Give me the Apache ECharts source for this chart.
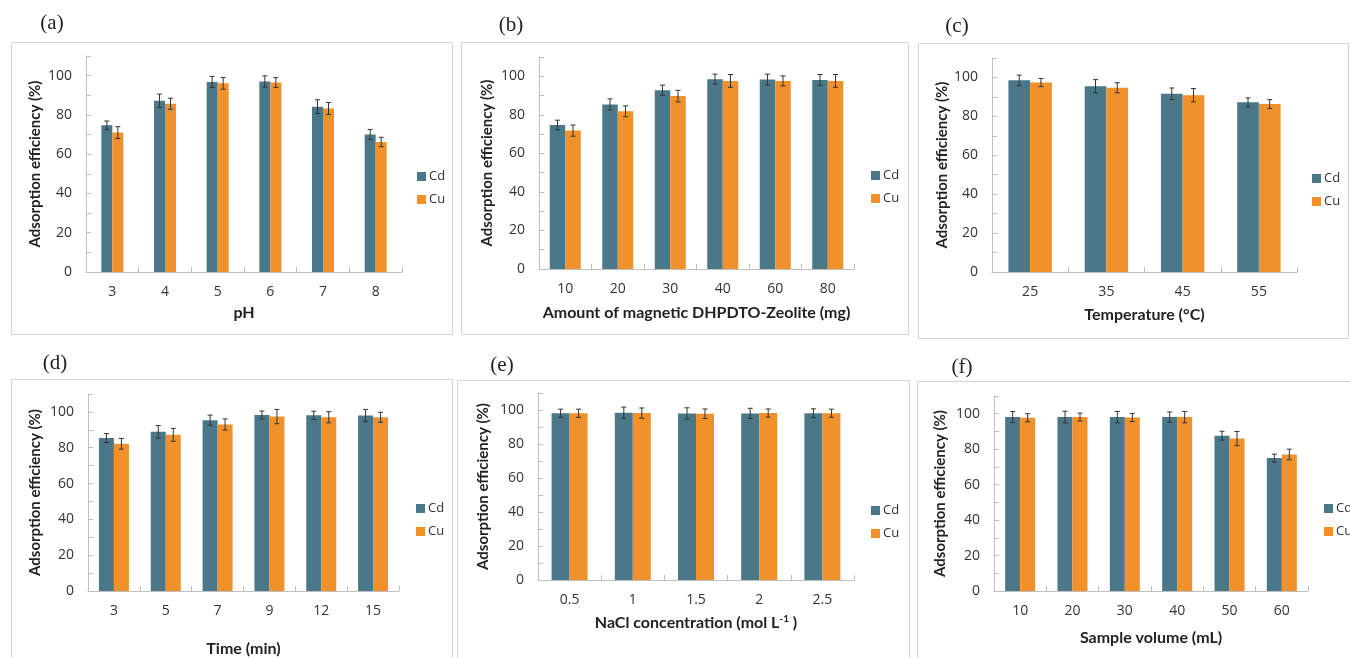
<!DOCTYPE html>
<html><head><meta charset="utf-8">
<script src="https://cdn.jsdelivr.net/npm/echarts@6/dist/echarts.min.js"></script>
<style>html,body{margin:0;padding:0;background:#fff}#c{width:1350px;height:658px}</style>
</head><body><div id="c"></div>
<script>
// ---- data ----
const seriesNames = ['Cd', 'Cu'];
const panelLabels = ['(a)', '(b)', '(c)', '(d)', '(e)', '(f)'];
const yTicks = [0, 20, 40, 60, 80, 100];

const catsA = ['3', '4', '5', '6', '7', '8'];
const cdA = [74.7, 87.2, 96.8, 97.0, 84.2, 70.0];
const cuA = [71.0, 85.7, 96.1, 96.5, 83.3, 66.2];
const cdErrA = [2.2, 3.4, 2.8, 2.9, 3.5, 2.6];
const cuErrA = [3.0, 2.8, 3.0, 2.5, 3.0, 2.4];

const catsB = ['10', '20', '30', '40', '60', '80'];
const cdB = [74.7, 85.4, 92.8, 98.5, 98.3, 98.1];
const cuB = [71.8, 81.8, 89.7, 97.6, 97.6, 97.6];
const cdErrB = [2.5, 2.9, 2.6, 2.6, 2.8, 2.8];
const cuErrB = [2.9, 2.8, 3.0, 3.3, 2.6, 3.3];

const catsC = ['25', '35', '45', '55'];
const cdC = [98.5, 95.5, 91.6, 87.2];
const cuC = [97.4, 94.7, 90.9, 86.3];
const cdErrC = [2.7, 3.4, 3.0, 2.3];
const cuErrC = [2.1, 2.6, 3.4, 2.3];

const catsD = ['3', '5', '7', '9', '12', '15'];
const cdD = [85.4, 88.9, 95.4, 98.3, 98.1, 98.0];
const cuD = [82.2, 87.2, 93.0, 97.4, 97.0, 97.0];
const cdErrD = [2.5, 3.5, 2.8, 2.2, 2.3, 3.4];
const cuErrD = [3.0, 3.6, 3.1, 4.0, 3.1, 2.8];

const catsE = ['0.5', '1', '1.5', '2', '2.5'];
const cdE = [98.1, 98.4, 98.0, 98.0, 98.1];
const cuE = [98.1, 98.2, 97.8, 98.2, 98.1];
const cdErrE = [2.4, 3.3, 3.3, 3.0, 2.6];
const cuErrE = [2.4, 3.0, 2.8, 2.4, 2.4];

const catsF = ['10', '20', '30', '40', '50', '60'];
const cdF = [98.1, 98.1, 98.1, 98.1, 87.6, 75.0];
const cuF = [97.7, 98.1, 97.9, 98.1, 86.0, 77.0];
const cdErrF = [3.1, 3.3, 3.2, 2.9, 2.5, 2.2];
const cuErrF = [2.3, 2.2, 2.3, 3.2, 4.0, 3.0];

const xNames = ['pH', 'Amount of magnetic DHPDTO-Zeolite (mg)', 'Temperature (\u00B0C)', 'Time (min)',
  'NaCl concentration (mol L{sup|-1} )', 'Sample volume (mL)'];
const yName = 'Adsorption efficiency (%)';

// ---- layout / style ----
const panels = [
  {cats: catsA, cd: cdA, cu: cuA, cdE: cdErrA, cuE: cuErrA, grid: [86, 56, 316, 216], bw: 11, xGap: 33, yGap: 43, leg: [417, 170], lab: [52, 23], box: [11, 42, 441, 292]},
  {cats: catsB, cd: cdB, cu: cuB, cdE: cdErrB, cuE: cuErrB, grid: [539, 57, 315, 212], bw: 15.5, xGap: 36, yGap: 44, leg: [871, 169], lab: [511, 25], box: [461, 42, 447, 292]},
  {cats: catsC, cd: cdC, cu: cuC, cdE: cdErrC, cuE: cuErrC, grid: [992, 58, 305, 214], bw: 21.7, xGap: 35, yGap: 42, leg: [1312, 172], lab: [957, 26], box: [918, 43, 430, 295]},
  {cats: catsD, cd: cdD, cu: cuD, cdE: cdErrD, cuE: cuErrD, grid: [88, 394, 311, 198], bw: 15, xGap: 50, yGap: 45, leg: [416, 502], lab: [55, 363], box: [11, 379, 441, 300]},
  {cats: catsE, cd: cdE, cu: cuE, cdE: cdErrE, cuE: cuErrE, grid: [538, 393, 316, 187], bw: 18, xGap: 34, yGap: 47, leg: [871, 504], lab: [502, 365], box: [457, 380, 452, 300]},
  {cats: catsF, cd: cdF, cu: cuF, cdE: cdErrF, cuE: cuErrF, grid: [994, 396, 314, 195], bw: 15, xGap: 39, yGap: 46, leg: [1324, 502], lab: [962, 367], box: [917, 381, 450, 300]}
];
const colors = {Cd: '#4a7889', Cu: '#f0912b'};
const axisCol = '#bfbfbf';
const txtFont = 'Open Sans';
const nameFont = 'Lato';

function errSeries(gi, vals, errs, sign, bw) {
  return {
    type: 'custom', xAxisIndex: gi, yAxisIndex: gi, silent: true, z: 10,
    data: vals.map((v, i) => [i, v, errs[i]]),
    encode: {x: 0, y: 1},
    renderItem: function (params, api) {
      const i = api.value(0), v = api.value(1), e = api.value(2);
      const t = api.coord([i, v + e]);
      const b = api.coord([i, v - e]);
      const x = t[0] + sign * bw / 2;
      const cap = 2.5;
      const st = {stroke: '#333', lineWidth: 1};
      return {type: 'group', children: [
        {type: 'line', shape: {x1: x, y1: t[1], x2: x, y2: b[1]}, style: st},
        {type: 'line', shape: {x1: x - cap, y1: t[1], x2: x + cap, y2: t[1]}, style: st},
        {type: 'line', shape: {x1: x - cap, y1: b[1], x2: x + cap, y2: b[1]}, style: st}
      ]};
    }
  };
}

const option = {
  backgroundColor: '#fff',
  animation: false,
  grid: [], xAxis: [], yAxis: [], series: [], legend: [], graphic: []
};

panels.forEach((p, gi) => {
  option.grid.push({left: p.grid[0], top: p.grid[1], width: p.grid[2], height: p.grid[3], containLabel: false});
  option.xAxis.push({
    type: 'category', gridIndex: gi, data: p.cats,
    name: xNames[gi], nameLocation: 'middle', nameGap: p.xGap,
    nameTextStyle: {fontFamily: nameFont, fontWeight: 'bold', fontSize: 16, color: '#222',
      rich: {sup: {fontFamily: nameFont, fontWeight: 'bold', fontSize: 10, verticalAlign: 'top', padding: [0, 0, 8, 0], color: '#222'}}},
    axisLine: {show: true, lineStyle: {color: axisCol, width: 1}},
    axisTick: {show: true, inside: true, length: 5, alignWithLabel: false, lineStyle: {color: axisCol}},
    axisLabel: {margin: 13, fontFamily: txtFont, fontSize: 14, color: '#333'},
    splitLine: {show: false}
  });
  option.yAxis.push({
    type: 'value', gridIndex: gi, min: 0, max: 110, interval: 10,
    name: yName, nameLocation: 'middle', nameGap: p.yGap, nameRotate: 90,
    nameTextStyle: {fontFamily: nameFont, fontWeight: 'bold', fontSize: 15, color: '#222'},
    axisLine: {show: true, lineStyle: {color: axisCol, width: 1}},
    axisTick: {show: true, inside: true, length: 5, lineStyle: {color: axisCol}},
    axisLabel: {margin: 14, fontFamily: txtFont, fontSize: 14, color: '#333',
      formatter: v => (yTicks.indexOf(v) >= 0 ? String(v) : '')},
    splitLine: {show: false}
  });
  option.series.push({
    name: 'Cd', type: 'bar', xAxisIndex: gi, yAxisIndex: gi, data: p.cd,
    barWidth: p.bw, barGap: '0%', itemStyle: {color: colors.Cd}
  });
  option.series.push({
    name: 'Cu', type: 'bar', xAxisIndex: gi, yAxisIndex: gi, data: p.cu,
    barWidth: p.bw, barGap: '0%', itemStyle: {color: colors.Cu}
  });
  option.series.push(errSeries(gi, p.cd, p.cdE, -1, p.bw));
  option.series.push(errSeries(gi, p.cu, p.cuE, 1, p.bw));
  option.legend.push({
    data: seriesNames, orient: 'vertical', left: p.leg[0], top: p.leg[1], padding: 0,
    itemWidth: 9, itemHeight: 9, itemGap: 10, icon: 'rect', selectedMode: false,
    textStyle: {fontFamily: txtFont, fontSize: 13, color: '#333', padding: [0, 0, 0, -2]}
  });
  option.graphic.push({
    type: 'rect', silent: true, z: -1,
    shape: {x: p.box[0] + 0.5, y: p.box[1] + 0.5, width: p.box[2], height: p.box[3]},
    style: {fill: 'none', stroke: '#d4d4d4', lineWidth: 1}
  });
  option.graphic.push({
    type: 'text', silent: true, x: p.lab[0], y: p.lab[1],
    style: {text: panelLabels[gi], font: '21px "Liberation Serif"', fill: '#222', align: 'center', verticalAlign: 'middle'}
  });
});

const chart = echarts.init(document.getElementById('c'), null, {renderer: 'canvas'});
chart.setOption(option);
</script>
</body></html>
